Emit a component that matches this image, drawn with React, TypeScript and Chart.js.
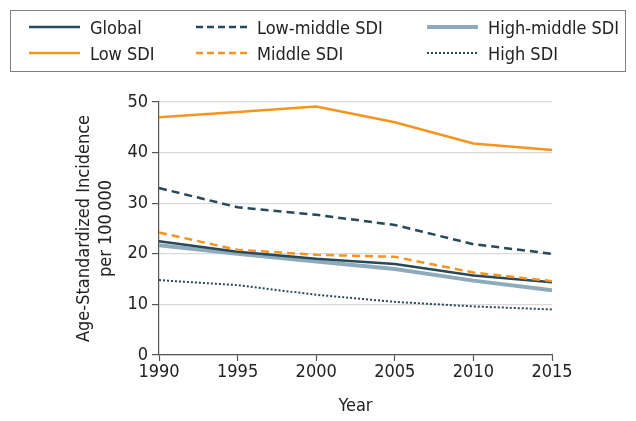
import React, { useEffect, useRef } from "react";
import { Chart, registerables } from "chart.js";

Chart.register(...registerables);

const years = ["1990", "1995", "2000", "2005", "2010", "2015"];
const globalVals = [22.5, 20.4, 19.0, 18.0, 15.7, 14.4];
const lowSDI = [47.0, 48.0, 49.1, 46.0, 41.8, 40.5];
const lowMiddleSDI = [33.0, 29.2, 27.7, 25.7, 21.9, 20.0];
const middleSDI = [24.2, 20.8, 19.8, 19.4, 16.3, 14.6];
const highMiddleSDI = [21.7, 20.0, 18.5, 17.0, 14.7, 12.8];
const highSDI = [14.8, 13.8, 11.9, 10.5, 9.6, 9.0];
const yTicks = [0, 10, 20, 30, 40, 50];

const DARK = "#27495a";
const ORANGE = "#f7941d";
const LIGHT = "#8eabbb";
const FONT = "'Liberation Sans Narrow', 'DejaVu Sans Condensed', 'Roboto Condensed', 'Noto Sans', sans-serif";

type LegendItem = { label: string; color: string; width: number; dash: string };
const legendItems: LegendItem[] = [
  { label: "Global", color: DARK, width: 2.5, dash: "" },
  { label: "Low-middle SDI", color: DARK, width: 2.5, dash: "7 4" },
  { label: "High-middle SDI", color: LIGHT, width: 4, dash: "" },
  { label: "Low SDI", color: ORANGE, width: 2.5, dash: "" },
  { label: "Middle SDI", color: ORANGE, width: 2.5, dash: "7 4" },
  { label: "High SDI", color: DARK, width: 2, dash: "2 2" },
];
const colX = [29, 196, 427];

export default function App() {
  const ref = useRef<HTMLCanvasElement | null>(null);

  useEffect(() => {
    document.body.style.margin = "0";
    const canvas = ref.current;
    if (!canvas) return;
    const chart = new Chart(canvas, {
      type: "line",
      data: {
        labels: years,
        datasets: [
          { label: "High-middle SDI", data: highMiddleSDI, borderColor: LIGHT, borderWidth: 4, order: 6 },
          { label: "Global", data: globalVals, borderColor: DARK, borderWidth: 2.5, order: 5 },
          { label: "High SDI", data: highSDI, borderColor: DARK, borderWidth: 2, borderDash: [2, 2], order: 4 },
          { label: "Middle SDI", data: middleSDI, borderColor: ORANGE, borderWidth: 2.5, borderDash: [8, 5], order: 3 },
          { label: "Low-middle SDI", data: lowMiddleSDI, borderColor: DARK, borderWidth: 2.5, borderDash: [8, 5], order: 2 },
          { label: "Low SDI", data: lowSDI, borderColor: ORANGE, borderWidth: 2.5, order: 1 },
        ].map((d) => ({ ...d, pointRadius: 0, tension: 0, fill: false, backgroundColor: d.borderColor })),
      },
      options: {
        animation: false,
        responsive: false,
        layout: { padding: { top: 102, right: 84, left: 0, bottom: 0 } },
        plugins: { legend: { display: false }, tooltip: { enabled: false } },
        scales: {
          x: {
            type: "category",
            offset: false,
            afterFit: (s: any) => { s.height = 66; },
            grid: { drawOnChartArea: false, tickLength: 6, tickColor: "#555", tickWidth: 1.2 },
            border: { color: "#555", width: 1.2 },
            ticks: { color: "#222", font: { family: FONT, size: 18 }, padding: 1, maxRotation: 0 },
            title: { display: true, text: "Year", color: "#222", font: { family: FONT, size: 18 }, padding: { top: 6 } },
          },
          y: {
            min: 0,
            max: 50,
            afterFit: (s: any) => { s.width = 159; },
            afterBuildTicks: (s: any) => { s.ticks = yTicks.map((v) => ({ value: v })); },
            grid: { color: "#d9d9d9", lineWidth: 1.2, tickLength: 7, tickColor: "#555", tickWidth: 1.2 },
            border: { color: "#555", width: 1.2 },
            ticks: { color: "#222", font: { family: FONT, size: 18 }, padding: 4 },
            title: {
              display: true,
              text: ["Age-Standardized Incidence", "per 100\u2009000"],
              color: "#222",
              font: { family: FONT, size: 18, lineHeight: 1.2 },
              padding: { top: 74, bottom: 0 },
            },
          },
        },
      },
    });
    return () => chart.destroy();
  }, []);

  return (
    <div style={{ position: "relative", width: 636, height: 421, background: "#fff" }}>
      <canvas ref={ref} width={636} height={421} style={{ position: "absolute", left: 0, top: 0 }} />
      <div
        style={{
          position: "absolute",
          left: 10,
          top: 10,
          width: 616,
          height: 62,
          border: "1px solid #808080",
          boxSizing: "border-box",
          fontFamily: FONT,
          fontSize: 18,
          color: "#222",
        }}
      >
        {legendItems.map((it, i) => {
          const col = i % 3;
          const row = Math.floor(i / 3);
          return (
            <div
              key={it.label}
              style={{
                position: "absolute",
                left: colX[col] - 11,
                top: 3 + row * 26,
                height: 26,
                display: "flex",
                alignItems: "center",
                whiteSpace: "nowrap",
              }}
            >
              <svg width={51} height={10} style={{ marginRight: 10 }}>
                <line x1={0} y1={5} x2={51} y2={5} stroke={it.color} strokeWidth={it.width} strokeDasharray={it.dash} />
              </svg>
              <span>{it.label}</span>
            </div>
          );
        })}
      </div>
    </div>
  );
}
